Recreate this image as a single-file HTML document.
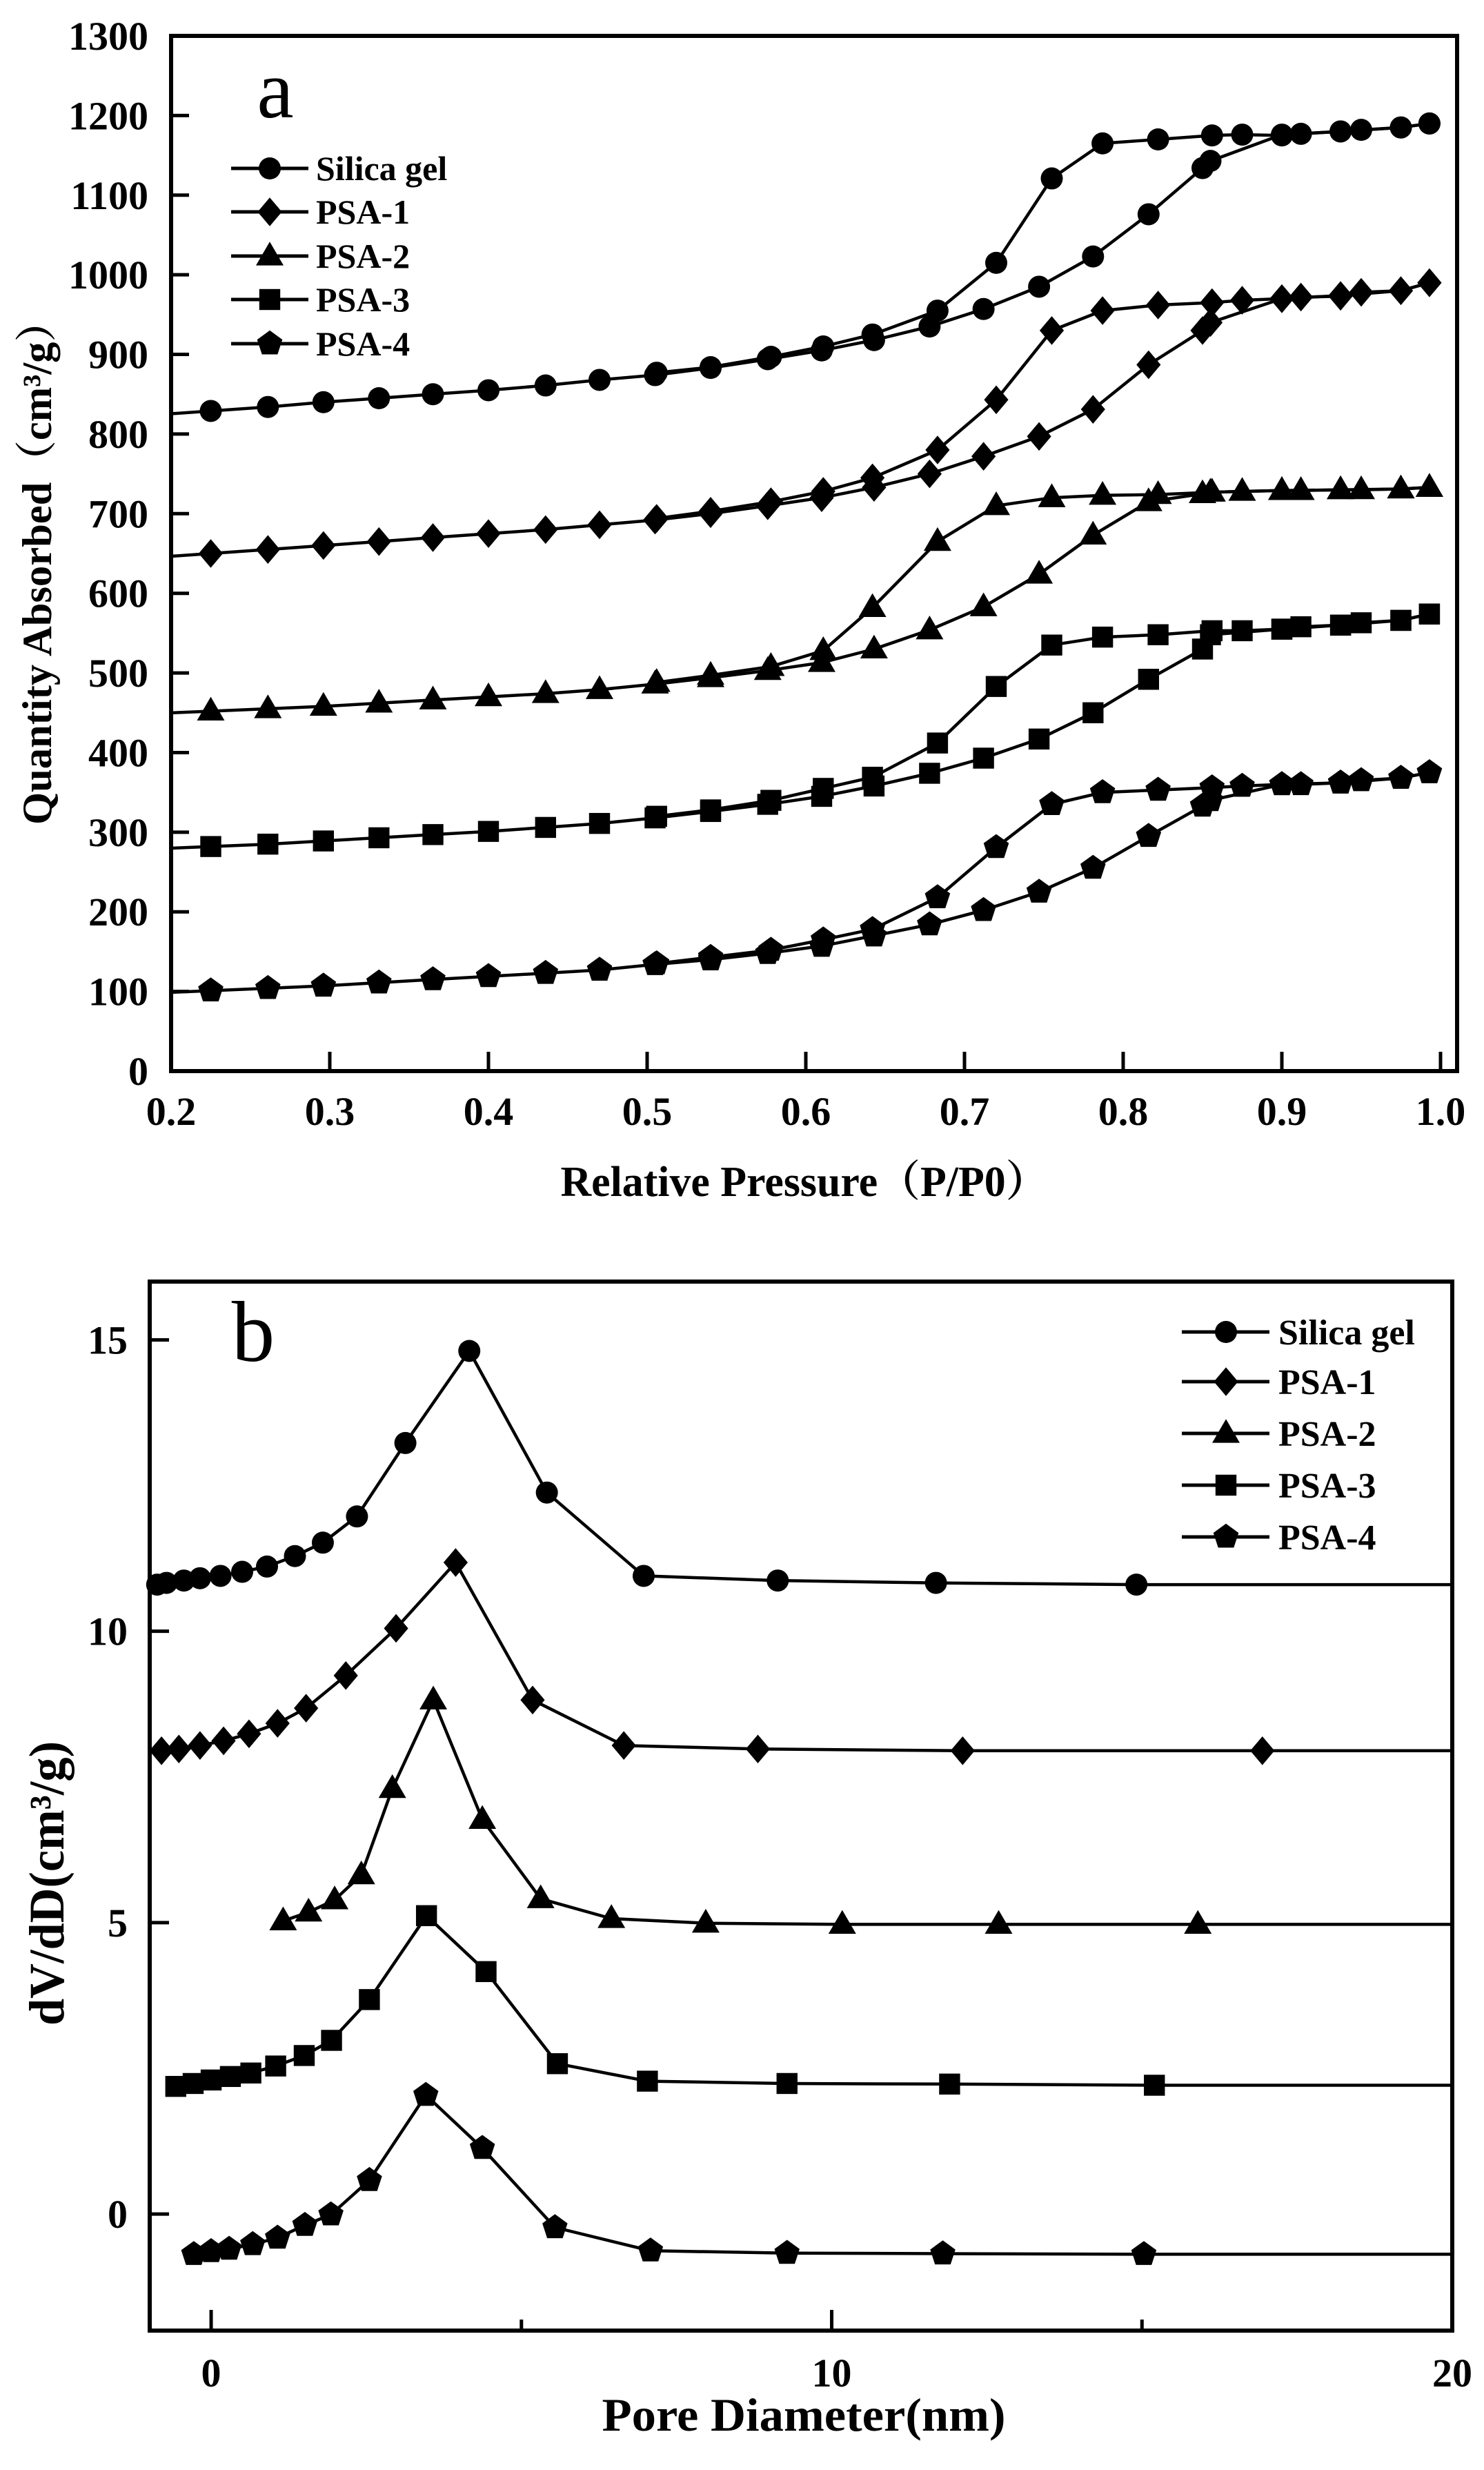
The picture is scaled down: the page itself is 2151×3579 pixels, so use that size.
<!DOCTYPE html>
<html><head><meta charset="utf-8">
<style>
html,body{margin:0;padding:0;background:#fff;}
svg{display:block;}
text{font-family:"Liberation Serif","Noto Serif CJK SC",serif;fill:#000;}
</style></head>
<body>
<svg id="fig" width="2151" height="3579" viewBox="0 0 2151 3579" xmlns="http://www.w3.org/2000/svg"></svg>
<script>
// ---------- Chart a data (isotherms) ----------
const aAdsX = [0.225,0.261,0.296,0.331,0.365,0.40,0.436,0.47,0.505,0.54,0.576,0.61,0.643,0.678,0.712,0.747,0.781,0.816,0.85,0.855,0.9,0.937,0.975,0.993];
const silicaAds = [829,834,840,845,850,855,861,868,874,883,894,905,918,935,957,985,1023,1076,1134,1143,1176,1180,1185,1190];
const psa1Ads = [650,655,660,665,670,675,680,686,692,700,710,720,733,750,772,797,831,887,930,940,970,974,980,990];
const psa2Ads = [452,455,458,462,466,470,474,479,486,494,503,513,530,554,583,624,673,715,725,727,729,730,731,733];
const psa3Ads = [282,285,289,293,297,301,306,311,318,326,335,345,358,374,393,417,450,492,530,548,555,560,566,574];
const psa4Ads = [101,104,107,111,115,119,123,127,134,140,148,157,170,184,202,225,255,295,333,340,360,362,368,375];
const aDesX = [0.993,0.975,0.95,0.937,0.912,0.9,0.875,0.856,0.822,0.787,0.755,0.72,0.683,0.642,0.611,0.578,0.54,0.506];
const silicaDes = [1190,1185,1182,1180,1177,1175,1176,1175,1170,1165,1121,1015,955,925,910,897,884,877];
const psa1Des = [990,980,978,973,972,970,968,965,962,955,930,843,780,745,728,715,703,694];
const psa2Des = [733,731,730,730,729,729,728,727,724,723,720,710,665,582,528,508,497,488];
const psa3Des = [574,566,563,560,558,555,553,553,548,545,535,483,412,369,355,340,328,320];
const psa4Des = [375,368,365,362,360,360,358,356,353,350,335,281,218,178,165,152,143,135];
const aYTicks = [0,100,200,300,400,500,600,700,800,900,1000,1100,1200,1300];
const aXTicks = [0.2,0.3,0.4,0.5,0.6,0.7,0.8,0.9,1.0];
const aXLabels = ["0.2","0.3","0.4","0.5","0.6","0.7","0.8","0.9","1.0"];

// ---------- Chart b data (pore size distribution) ----------
const silicaBX = [-0.87,-0.72,-0.44,-0.18,0.15,0.50,0.90,1.35,1.80,2.35,3.13,4.16,5.41,6.97,9.13,11.68,14.91];
const silicaBY = [10.80,10.83,10.87,10.91,10.95,11.02,11.11,11.29,11.52,11.97,13.23,14.81,12.38,10.95,10.87,10.83,10.80];
const psa1BX = [-0.80,-0.52,-0.18,0.20,0.61,1.07,1.53,2.17,2.98,3.94,5.18,6.65,8.81,12.11,16.94];
const psa1BY = [7.95,7.98,8.04,8.12,8.24,8.42,8.68,9.24,10.05,11.18,8.82,8.04,7.98,7.95,7.95];
const psa2BX = [1.16,1.57,1.99,2.42,2.92,3.58,4.37,5.31,6.45,7.97,10.17,12.69,15.90];
const psa2BY = [5.03,5.18,5.39,5.82,7.30,8.82,6.77,5.41,5.07,4.99,4.97,4.97,4.97];
const psa3BX = [-0.57,-0.29,0,0.31,0.64,1.04,1.50,1.94,2.55,3.47,4.43,5.58,7.03,9.28,11.90,15.20];
const psa3BY = [2.19,2.24,2.30,2.36,2.42,2.54,2.72,2.98,3.68,5.12,4.16,2.58,2.28,2.24,2.23,2.21];
const psa4BX = [-0.28,0,0.29,0.67,1.07,1.51,1.93,2.55,3.46,4.37,5.54,7.08,9.28,11.79,15.03];
const psa4BY = [-0.69,-0.64,-0.60,-0.52,-0.41,-0.19,-0.01,0.58,2.04,1.13,-0.23,-0.63,-0.67,-0.68,-0.69];
const bYTicks = [0,5,10,15];
const bXTicks = [0,10,20];
const bXMinor = [5,15];
const seriesNames = ["Silica gel","PSA-1","PSA-2","PSA-3","PSA-4"];
const markerKinds = ["circle","diamond","triangle","square","pentagon"];

const NS="http://www.w3.org/2000/svg";
const svg=document.getElementById('fig');
function el(tag,attrs,parent){const e=document.createElementNS(NS,tag);for(const k in attrs)e.setAttribute(k,attrs[k]);(parent||svg).appendChild(e);return e;}

function marker(kind,cx,cy,g){
  const s=16;let m;
  if(kind==="circle")m=el('circle',{cx:cx,cy:cy,r:s},g);
  else if(kind==="diamond")m=el('polygon',{points:`${cx},${cy-s*1.3} ${cx+s*1.1},${cy} ${cx},${cy+s*1.3} ${cx-s*1.1},${cy}`},g);
  else if(kind==="triangle")m=el('polygon',{points:`${cx},${cy-s*1.3} ${cx+s*1.25},${cy+s*0.85} ${cx-s*1.25},${cy+s*0.85}`},g);
  else if(kind==="square")m=el('rect',{x:cx-s*0.95,y:cy-s*0.95,width:s*1.9,height:s*1.9},g);
  else {let p=[];for(let i=0;i<5;i++){const a=-Math.PI/2+i*2*Math.PI/5;p.push((cx+s*1.2*Math.cos(a)).toFixed(1)+","+(cy+s*1.2*Math.sin(a)).toFixed(1));}m=el('polygon',{points:p.join(" ")},g);}
  m.setAttribute('fill','#000');
  
  
  return m;
}
function text(x,y,str,attrs,name){const t=el('text',Object.assign({x:x,y:y},attrs||{}));t.textContent=str;return t;}

// ===== Chart a =====
const A={l:248,r:2112,t:52,b:1552,x0:0.2,x1:1.0,px0:248,px1:2088,y0:0,y1:1300};
const ax=v=>A.px0+(v-A.x0)/(A.x1-A.x0)*(A.px1-A.px0);
const ay=v=>A.b-(v-A.y0)/(A.y1-A.y0)*(A.b-A.t);
const ga=el('g',{});


aYTicks.forEach(v=>{
  const l=el('line',{x1:A.l,x2:A.l+26,y1:ay(v),y2:ay(v),stroke:'#000','stroke-width':5},ga);
  
  const t=text(215,ay(v)+20,String(v),{'text-anchor':'end','font-size':58,'font-weight':'bold'},'y-tick-label');ga.appendChild(t);
});
aXTicks.forEach((v,i)=>{
  const l=el('line',{x1:ax(v),x2:ax(v),y1:A.b,y2:A.b-28,stroke:'#000','stroke-width':5},ga);
  
  const t=text(ax(v),1630,aXLabels[i],{'text-anchor':'middle','font-size':58,'font-weight':'bold'},'x-tick-label');ga.appendChild(t);
});
function drawLine(xs,ys,fx,fy,g,extra){
  let pts=xs.map((x,i)=>fx(x).toFixed(1)+","+fy(ys[i]).toFixed(1));
  if(extra)pts=extra(pts);
  const p=el('polyline',{points:pts.join(" "),fill:'none',stroke:'#000','stroke-width':4.5,'stroke-linejoin':'round'},g);
  
}
const aAds=[silicaAds,psa1Ads,psa2Ads,psa3Ads,psa4Ads];
const aDes=[silicaDes,psa1Des,psa2Des,psa3Des,psa4Des];
aAds.forEach((ys,k)=>{
  const g=el('g',{},ga);
  
  
  const slope=(ys[1]-ys[0])/(aAdsX[1]-aAdsX[0]);
  const y0=ys[0]-slope*(aAdsX[0]-0.2);
  drawLine(aAdsX,ys,ax,ay,g,pts=>[ax(0.2).toFixed(1)+","+ay(y0).toFixed(1)].concat(pts));
  drawLine(aDesX,aDes[k],ax,ay,g);
  aAdsX.forEach((x,i)=>marker(markerKinds[k],ax(x),ay(ys[i]),g));
  aDesX.forEach((x,i)=>marker(markerKinds[k],ax(x),ay(aDes[k][i]),g));
});
const fa=el('rect',{x:A.l,y:A.t,width:A.r-A.l,height:A.b-A.t,fill:'none',stroke:'#000','stroke-width':6},ga);

ga.appendChild(text(399,170,'a',{'text-anchor':'middle','font-size':120},'panel-label-a'));
const legA=el('g',{},ga);


[244,307,371,434,498].forEach((y,k)=>{
  const g=el('g',{},legA);
  
  
  el('line',{x1:335,x2:447,y1:y,y2:y,stroke:'#000','stroke-width':5},g);
  marker(markerKinds[k],391,y,g);
  g.appendChild(text(458,y+17,seriesNames[k],{'font-size':50,'font-weight':'bold'},'legend-label'));
});
ga.appendChild(text(1166,1733,'Relative Pressure（P/P0）',{'text-anchor':'middle','font-size':62,'font-weight':'bold',textLength:707,lengthAdjust:'spacingAndGlyphs'},'x-axis-title'));
ga.appendChild(text(0,0,'Quantity Absorbed（cm³/g）',{'text-anchor':'middle','font-size':60,'font-weight':'bold',textLength:760,lengthAdjust:'spacingAndGlyphs',transform:'translate(74,815) rotate(-90)'},'y-axis-title'));

// ===== Chart b =====
const B={l:217,r:2105,t:1857,b:3377,x0:-0.99,x1:20,y0:-2,y1:16};
const bx=v=>B.l+(v-B.x0)/(B.x1-B.x0)*(B.r-B.l);
const by=v=>B.b-(v-B.y0)/(B.y1-B.y0)*(B.b-B.t);
const gb=el('g',{});


bYTicks.forEach(v=>{
  const l=el('line',{x1:B.l,x2:B.l+28,y1:by(v),y2:by(v),stroke:'#000','stroke-width':5},gb);
  
  gb.appendChild(text(185,by(v)+20,String(v),{'text-anchor':'end','font-size':58,'font-weight':'bold'},'y-tick-label'));
});
bXTicks.forEach(v=>{
  const l=el('line',{x1:bx(v),x2:bx(v),y1:B.b,y2:B.b-30,stroke:'#000','stroke-width':5},gb);
  
  gb.appendChild(text(bx(v),3458,String(v),{'text-anchor':'middle','font-size':58,'font-weight':'bold'},'x-tick-label'));
});
bXMinor.forEach(v=>{
  const l=el('line',{x1:bx(v),x2:bx(v),y1:B.b,y2:B.b-16,stroke:'#000','stroke-width':5},gb);
  
});
const bXs=[silicaBX,psa1BX,psa2BX,psa3BX,psa4BX];
const bYs=[silicaBY,psa1BY,psa2BY,psa3BY,psa4BY];
bXs.forEach((xs,k)=>{
  const g=el('g',{},gb);
  
  
  const ys=bYs[k];
  drawLine(xs,ys,bx,by,g,pts=>pts.concat([bx(20).toFixed(1)+","+by(ys[ys.length-1]).toFixed(1)]));
  xs.forEach((x,i)=>marker(markerKinds[k],bx(x),by(ys[i]),g));
});
const fb=el('rect',{x:B.l,y:B.t,width:B.r-B.l,height:B.b-B.t,fill:'none',stroke:'#000','stroke-width':6},gb);

gb.appendChild(text(367,1972,'b',{'text-anchor':'middle','font-size':125},'panel-label-b'));
const legB=el('g',{},gb);


[1930,2002,2077,2152,2227].forEach((y,k)=>{
  const g=el('g',{},legB);
  
  
  el('line',{x1:1713,x2:1840,y1:y,y2:y,stroke:'#000','stroke-width':5},g);
  marker(markerKinds[k],1777,y,g);
  g.appendChild(text(1853,y+18,seriesNames[k],{'font-size':52,'font-weight':'bold'},'legend-label'));
});
gb.appendChild(text(1165,3522,'Pore Diameter(nm)',{'text-anchor':'middle','font-size':68,'font-weight':'bold',textLength:585,lengthAdjust:'spacingAndGlyphs'},'x-axis-title'));
gb.appendChild(text(0,0,'dV/dD(cm³/g)',{'text-anchor':'middle','font-size':72,'font-weight':'bold',textLength:412,lengthAdjust:'spacingAndGlyphs',transform:'translate(92,2729) rotate(-90)'},'y-axis-title'));
</script>
</body></html>
